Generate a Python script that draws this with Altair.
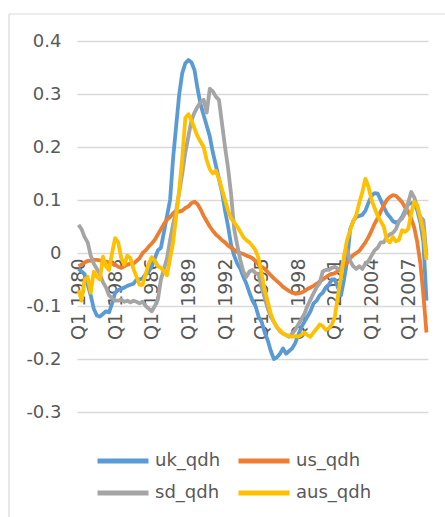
import altair as alt
import pandas as pd

years = list(range(1980, 2009))
quarters = [f"Q{q} {y}" for y in years for q in (1, 2, 3, 4)][:115]
tick_labels = [f"Q1 {y}" for y in range(1980, 2008, 3)]
y_ticks = [-0.3, -0.2, -0.1, 0, 0.1, 0.2, 0.3, 0.4]
series_names = ["uk_qdh", "us_qdh", "sd_qdh", "aus_qdh"]
series_colors = ["#5B9BD5", "#ED7D31", "#A5A5A5", "#FFC000"]

uk = [
    -0.03, -0.035, -0.04, -0.06,
    -0.08, -0.105, -0.118, -0.12,
    -0.115, -0.11, -0.112, -0.095,
    -0.075, -0.07, -0.068, -0.065,
    -0.062, -0.06, -0.058, -0.05,
    -0.05, -0.048, -0.04, -0.035,
    -0.025, -0.01, 0.005, 0.01,
    0.04, 0.07, 0.1, 0.18,
    0.24, 0.3, 0.34, 0.358,
    0.364, 0.36, 0.345, 0.31,
    0.28, 0.26, 0.24, 0.22,
    0.19, 0.165, 0.14, 0.115,
    0.08, 0.05, 0.015, -0.005,
    -0.02, -0.03, -0.045, -0.058,
    -0.075, -0.09, -0.1, -0.12,
    -0.13, -0.15, -0.165, -0.185,
    -0.2, -0.197, -0.19, -0.18,
    -0.19, -0.185, -0.18, -0.17,
    -0.155, -0.14, -0.13, -0.12,
    -0.11, -0.095, -0.09, -0.08,
    -0.075, -0.065, -0.06, -0.05,
    -0.05, -0.065, -0.08, -0.05,
    -0.015, 0.045, 0.06, 0.068,
    0.07, 0.072, 0.08, 0.095,
    0.108, 0.113, 0.112, 0.1,
    0.087, 0.075, 0.068, 0.06,
    0.057, 0.06, 0.068, 0.08,
    0.092, 0.094, 0.094, 0.08,
    0.057, 0.02, -0.09,
]

us = [
    -0.025, -0.022, -0.018, -0.015,
    -0.015, -0.013, -0.013, -0.014,
    -0.015, -0.016, -0.018, -0.02,
    -0.022, -0.026, -0.028, -0.025,
    -0.022, -0.02, -0.02, -0.015,
    -0.01, 0.0, 0.005, 0.012,
    0.018, 0.025, 0.035, 0.045,
    0.055, 0.063, 0.068, 0.075,
    0.08, 0.078, 0.08, 0.085,
    0.088, 0.094, 0.097, 0.092,
    0.082, 0.07, 0.06, 0.05,
    0.042, 0.035, 0.03, 0.024,
    0.02, 0.014, 0.01, 0.006,
    0.002, 0.0, -0.002, -0.005,
    -0.007, -0.01, -0.015, -0.022,
    -0.026, -0.03, -0.036, -0.042,
    -0.048, -0.053, -0.058, -0.064,
    -0.068, -0.072, -0.075, -0.077,
    -0.076, -0.075, -0.072, -0.068,
    -0.065, -0.062, -0.058, -0.054,
    -0.05, -0.046, -0.042, -0.04,
    -0.038, -0.034, -0.03, -0.025,
    -0.018, -0.01, -0.004, 0.0,
    0.004, 0.012, 0.02, 0.03,
    0.042, 0.055, 0.066, 0.078,
    0.09, 0.1, 0.106, 0.109,
    0.108, 0.102, 0.096, 0.086,
    0.078, 0.065, 0.048, 0.02,
    -0.02, -0.08, -0.15,
]

sd = [
    0.053, 0.045, 0.03, 0.02,
    -0.005, -0.02, -0.03, -0.04,
    -0.055, -0.065, -0.08, -0.085,
    -0.09, -0.09, -0.088, -0.092,
    -0.09, -0.093, -0.09, -0.092,
    -0.095, -0.092, -0.1, -0.105,
    -0.11, -0.1, -0.088, -0.05,
    -0.03, -0.01, 0.025, 0.055,
    0.08, 0.115, 0.15, 0.19,
    0.22, 0.25, 0.265, 0.276,
    0.285, 0.289, 0.265, 0.31,
    0.305, 0.295, 0.289, 0.245,
    0.2, 0.16, 0.11, 0.045,
    0.015, -0.013, -0.035, -0.045,
    -0.035, -0.032, -0.038, -0.04,
    -0.065, -0.085, -0.105, -0.12,
    -0.13, -0.14, -0.148, -0.152,
    -0.155, -0.158, -0.152, -0.145,
    -0.135, -0.125, -0.115, -0.1,
    -0.088, -0.076, -0.065, -0.057,
    -0.035, -0.032, -0.032, -0.028,
    -0.026, -0.03, -0.032, -0.01,
    0.006, -0.015, -0.025, -0.03,
    -0.025, -0.03, -0.02, -0.015,
    -0.005, 0.005, 0.01, 0.02,
    0.02, 0.03, 0.035, 0.038,
    0.045, 0.06, 0.065, 0.075,
    0.095, 0.115, 0.105, 0.085,
    0.068, 0.062, -0.005,
]

aus = [
    -0.07, -0.09, -0.05, -0.045,
    -0.075, -0.035, -0.045, -0.05,
    -0.007, -0.025, -0.032, 0.0,
    0.028, 0.02, -0.01, -0.022,
    -0.005, -0.01, -0.03, -0.045,
    -0.06, -0.06, -0.04, -0.02,
    -0.008, -0.015, -0.025, -0.028,
    -0.035, -0.042, -0.01, 0.02,
    0.07, 0.12, 0.18, 0.255,
    0.262, 0.25, 0.235, 0.22,
    0.21, 0.2, 0.175, 0.158,
    0.15, 0.155, 0.14, 0.12,
    0.1, 0.08, 0.065, 0.058,
    0.05, 0.04, 0.03, 0.024,
    0.02, 0.013, 0.005, -0.01,
    -0.04, -0.07, -0.092, -0.115,
    -0.13, -0.14, -0.146, -0.152,
    -0.155, -0.156, -0.158, -0.157,
    -0.158, -0.155, -0.15, -0.155,
    -0.158, -0.15, -0.143, -0.135,
    -0.138, -0.145, -0.142, -0.135,
    -0.12, -0.08, -0.045, -0.005,
    0.025, 0.043, 0.06, 0.072,
    0.095, 0.115, 0.14, 0.125,
    0.1, 0.085, 0.07, 0.06,
    0.05, 0.025, 0.02, 0.03,
    0.022, 0.025, 0.043, 0.04,
    0.045, 0.075, 0.097, 0.09,
    0.065, 0.04, -0.013,
]

rows = []
for name, vals in zip(series_names, [uk, us, sd, aus]):
    for i, (q, v) in enumerate(zip(quarters, vals)):
        rows.append({"quarter": q, "idx": i, "series": name, "value": v})
df = pd.DataFrame(rows)

FONT = "DejaVu Sans"
TXT = "#595959"

lines = alt.Chart(df).mark_line(strokeWidth=3.8, strokeJoin="round").encode(
    x=alt.X(
        "quarter:O",
        sort=quarters,
        scale=alt.Scale(type="point", padding=0.5),
        axis=alt.Axis(
            values=tick_labels, labelAngle=270, title=None, grid=False,
            domain=False, ticks=False, offset=-159, labelPadding=5,
            labelFontSize=19, labelColor=TXT, labelFont=FONT,
        ),
    ),
    y=alt.Y(
        "value:Q",
        scale=alt.Scale(domain=[-0.3, 0.4], nice=False, zero=False),
        axis=alt.Axis(
            values=y_ticks, labelExpr="'' + datum.value", title=None,
            domain=False, ticks=False, grid=True, gridColor="#D9D9D9",
            gridWidth=1.3, labelPadding=16, labelFontSize=18,
            labelColor=TXT, labelFont=FONT,
        ),
    ),
    color=alt.Color(
        "series:N",
        scale=alt.Scale(domain=series_names, range=series_colors),
        legend=alt.Legend(
            title=None, orient="none", legendX=35, legendY=409, columns=2,
            direction="horizontal",
            symbolType="M-3,0H3", symbolSize=289, symbolStrokeWidth=5,
            labelOffset=21, labelFontSize=18, labelColor=TXT, labelFont=FONT,
            columnPadding=7, rowPadding=11,
        ),
    ),
    order=alt.Order("idx:Q"),
)

frame = pd.DataFrame({"k": [0]})
border_top = alt.Chart(frame).mark_rule(color="#D9D9D9", strokeWidth=1.2).encode(
    x=alt.value(-68), x2=alt.value(380), y=alt.value(-27)
)
border_left = alt.Chart(frame).mark_rule(color="#D9D9D9", strokeWidth=1.2).encode(
    x=alt.value(-68), y=alt.value(-27), y2=alt.value(490)
)

chart = alt.layer(border_top, border_left, lines).properties(
    width=351, height=371,
    autosize=alt.AutoSizeParams(type="none"),
    padding={"left": 77, "top": 41, "right": 17, "bottom": 105},
    background="white",
).configure_view(strokeWidth=0)

chart.save("out.html", embed_options={"renderer": "svg", "actions": False})
